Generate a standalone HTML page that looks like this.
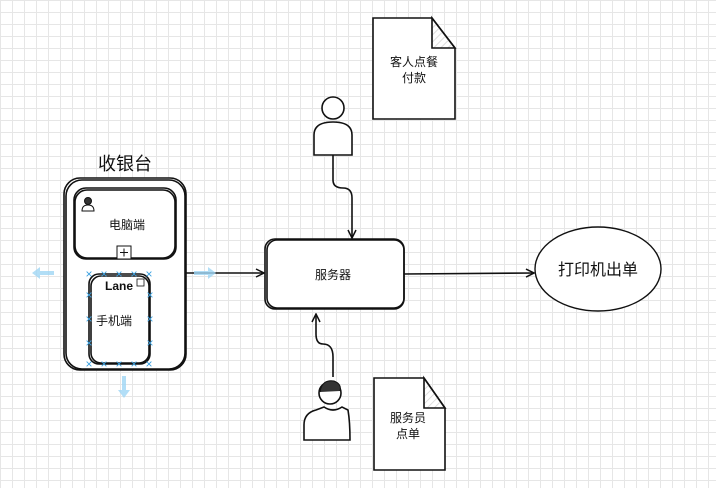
<!DOCTYPE html>
<html><head><meta charset="utf-8"><style>
html,body{margin:0;padding:0;}
body{width:716px;height:488px;overflow:hidden;background:#fff;
background-image:linear-gradient(#e6e6e6 1px,transparent 1px),linear-gradient(90deg,#e6e6e6 1px,transparent 1px);
background-size:12px 12px;font-family:"Liberation Sans","Noto Sans CJK SC",sans-serif;}
svg{position:absolute;left:0;top:0;}
text{font-family:"Liberation Sans","Noto Sans CJK SC",sans-serif;fill:#111;}
</style></head><body>
<svg width="716" height="488" viewBox="0 0 716 488">
<defs><marker id="a" markerWidth="10" markerHeight="10" refX="9" refY="5" orient="auto" markerUnits="userSpaceOnUse"><path d="M1,1 L9,5 L1,9" fill="none" stroke="#111" stroke-width="1.5"/></marker>
<pattern id="h" width="5" height="5" patternUnits="userSpaceOnUse" patternTransform="rotate(45)"><line x1="0" y1="0" x2="0" y2="5" stroke="#ddd" stroke-width="2"/></pattern></defs>
<g fill="none" stroke="#111" stroke-width="1.6">
<text x="125" y="170" font-size="18" text-anchor="middle" stroke="none">收银台</text>
<rect x="64" y="178" width="122" height="192" rx="16" fill="#fff"/>
<rect x="66" y="180" width="119" height="189" rx="16"/>
<rect x="74" y="188" width="102" height="71" rx="12" fill="#fff"/>
<rect x="75" y="190" width="100" height="68" rx="12"/>
<circle cx="88" cy="201" r="3.5" fill="#333" stroke-width="1"/>
<path d="M82,211 q0,-6 6,-6 q6,0 6,6 z" stroke-width="1"/>
<rect x="117" y="246" width="14" height="13" fill="#fff" stroke-width="1"/>
<path d="M120,252.5h8M124,248.5v8" stroke-width="1"/>
<rect x="89" y="274" width="61" height="90" rx="10" fill="#fff"/>
<rect x="91" y="276" width="58" height="87" rx="10"/>
<rect x="137" y="279" width="7" height="7" stroke-width="0.8"/>
<path d="M186,273 L264,273" marker-end="url(#a)"/>
<rect x="265" y="239" width="139" height="70" rx="10" fill="#fff"/>
<rect x="267" y="240" width="137" height="68" rx="10"/>
<path d="M404,274 L534,273" marker-end="url(#a)"/>
<ellipse cx="598" cy="269" rx="63" ry="42" fill="#fff" stroke-width="1.4"/>
<circle cx="333" cy="108" r="11" fill="#fff"/>
<path d="M314,155 v-20 q0,-13 19,-13 q19,0 19,13 v20 z" fill="#fff"/>
<path d="M333,155 v25 q0,8 10,8 q9,0 9,10 v40" marker-end="url(#a)"/>
<path d="M373,18 h59 l23,30 v71 h-82 z" fill="#fff"/>
<path d="M432,18 v30 h23 z" fill="url(#h)"/>
<path d="M333,377 v-20 q0,-13 -10,-13 q-7,0 -7,-10 v-20" marker-end="url(#a)"/>
<path d="M304,440 v-15 q0,-12 12,-15 l8,-3 q9,6 18,0 l6,3 q2,12 2,30 z" fill="#fff"/>
<circle cx="330" cy="393" r="11" fill="#fff"/>
<path d="M320,392 q2,-13 14,-11 q8,3 6,10" fill="#333" stroke-width="1"/>
<path d="M374,378 h50 l21,30 v62 h-71 z" fill="#fff"/>
<path d="M424,378 v30 h21 z" fill="url(#h)"/>
</g>
<g fill="#9fd6f5" stroke="none" opacity="0.8">
<path d="M32,273 l8,-6 v4 h14 v4 h-14 v4 z"/>
<path d="M216,273 l-8,-6 v4 h-14 v4 h14 v4 z"/>
<path d="M124,398 l-6,-8 h4 v-14 h4 v14 h4 z"/>
</g>
<g fill="#3aa0e0" font-size="12" text-anchor="middle">
<text x="89" y="278" style="fill:#3aa0e0">×</text><text x="104" y="278" style="fill:#3aa0e0">×</text><text x="119" y="278" style="fill:#3aa0e0">×</text><text x="134" y="278" style="fill:#3aa0e0">×</text><text x="149" y="278" style="fill:#3aa0e0">×</text>
<text x="89" y="368" style="fill:#3aa0e0">×</text><text x="104" y="368" style="fill:#3aa0e0">×</text><text x="119" y="368" style="fill:#3aa0e0">×</text><text x="134" y="368" style="fill:#3aa0e0">×</text><text x="149" y="368" style="fill:#3aa0e0">×</text>
<text x="89" y="299" style="fill:#3aa0e0">×</text><text x="89" y="323" style="fill:#3aa0e0">×</text><text x="89" y="347" style="fill:#3aa0e0">×</text>
<text x="150" y="299" style="fill:#3aa0e0">×</text><text x="150" y="323" style="fill:#3aa0e0">×</text><text x="150" y="347" style="fill:#3aa0e0">×</text>
</g>
<text x="127" y="229" font-size="12" text-anchor="middle">电脑端</text>
<text x="119" y="290" font-size="12" font-weight="bold" text-anchor="middle">Lane</text>
<text x="114" y="325" font-size="12" text-anchor="middle">手机端</text>
<text x="333" y="279" font-size="12" text-anchor="middle">服务器</text>
<text x="598" y="275" font-size="16" text-anchor="middle">打印机出单</text>
<text x="414" y="66" font-size="12" text-anchor="middle">客人点餐</text>
<text x="414" y="82" font-size="12" text-anchor="middle">付款</text>
<text x="408" y="422" font-size="12" text-anchor="middle">服务员</text>
<text x="408" y="438" font-size="12" text-anchor="middle">点单</text>
</svg>
</body></html>
